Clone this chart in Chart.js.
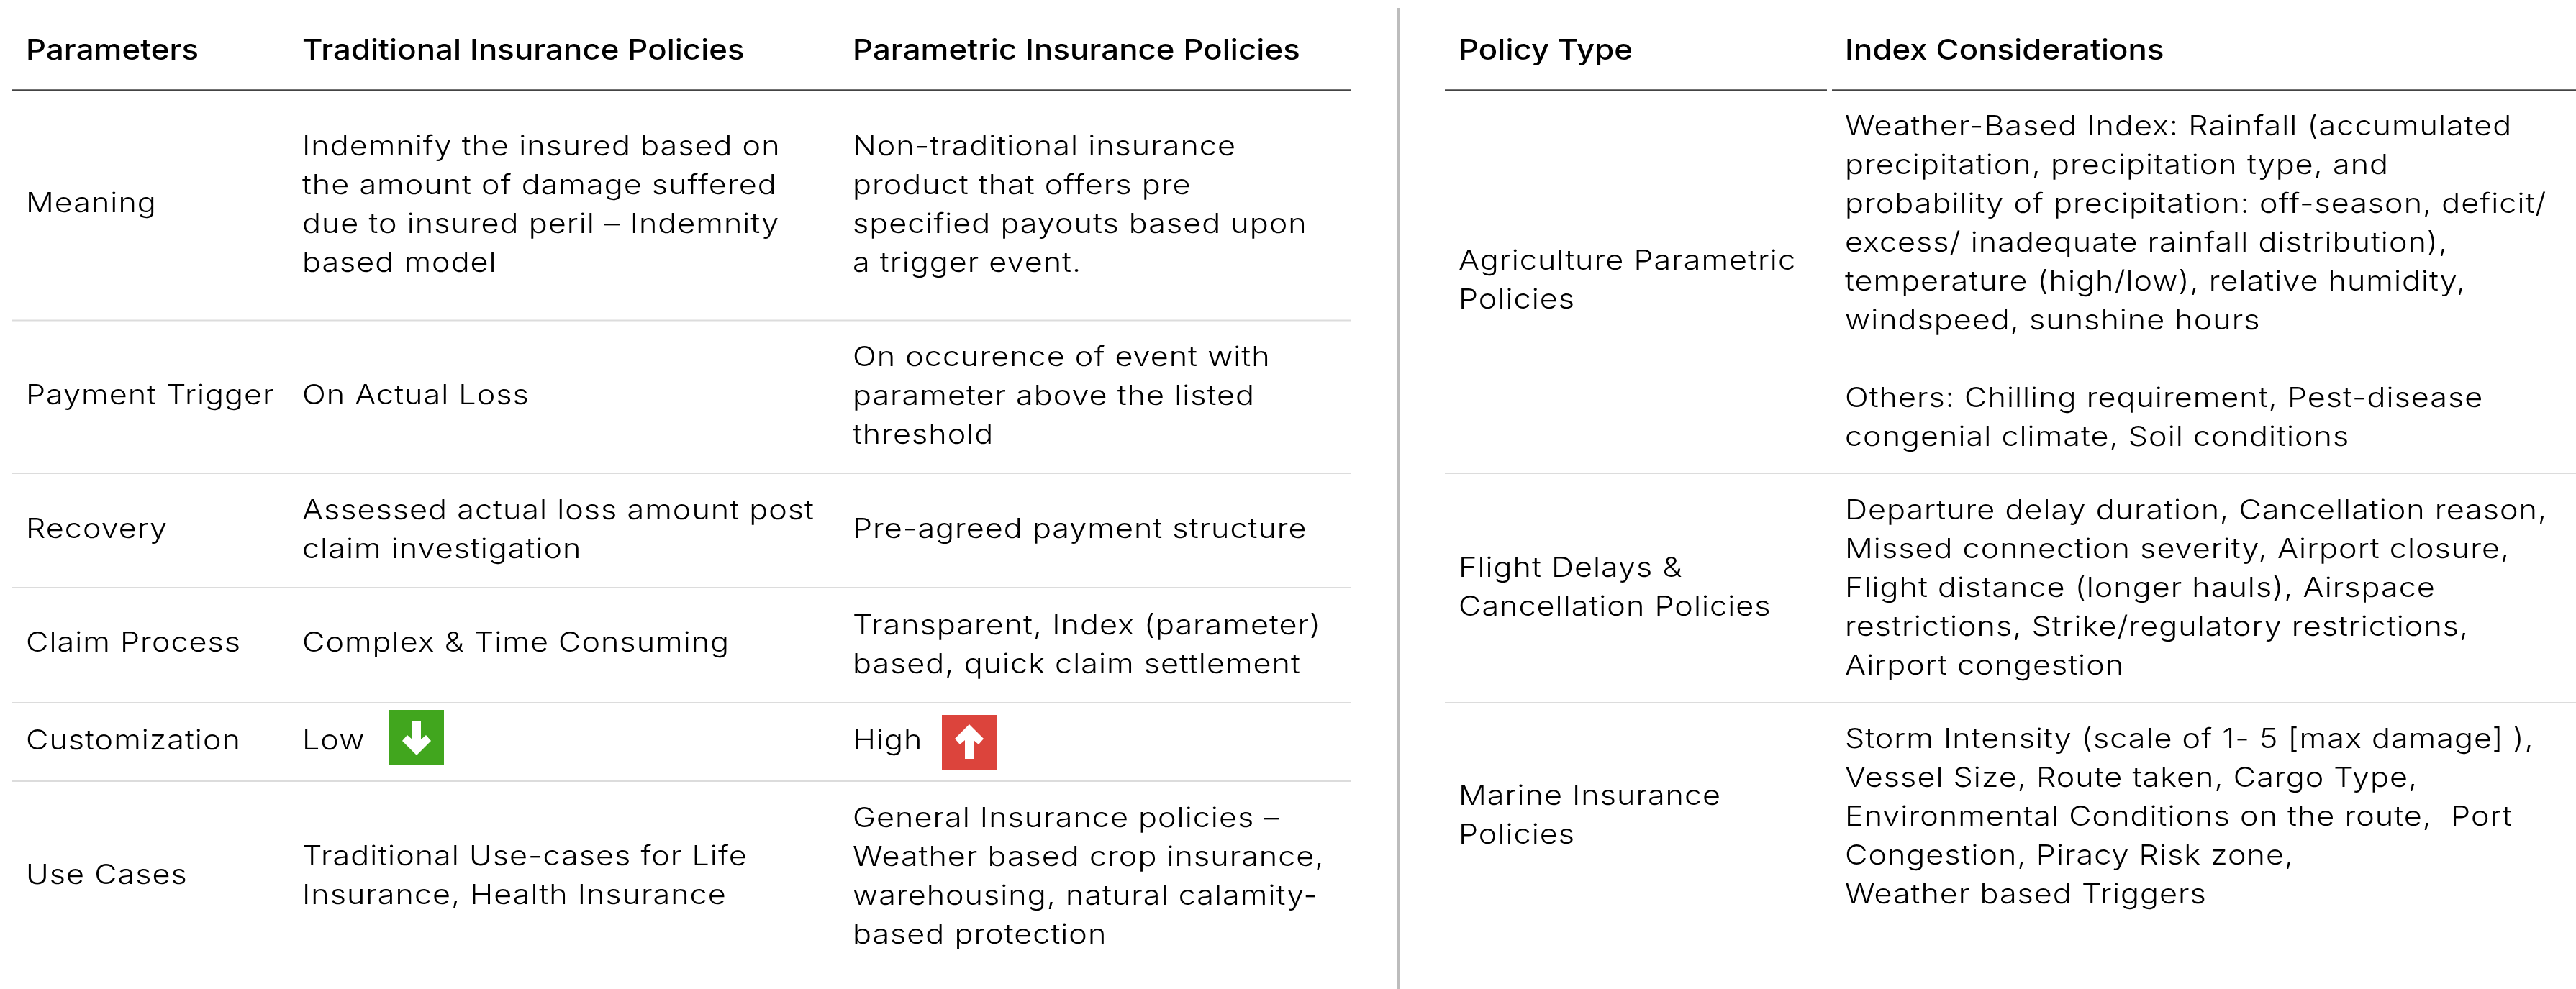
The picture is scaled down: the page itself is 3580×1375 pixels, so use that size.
<!DOCTYPE html>
<html>
<head>
<meta charset="utf-8">
<title>Parametric insurance tables</title>
<script src="https://cdn.jsdelivr.net/npm/chart.js@4/dist/chart.umd.js"></script>
<style>
  html, body { margin: 0; padding: 0; background: #fff; }
  canvas { display: block; }
</style>
</head>
<body>
<canvas id="canvas" width="3580" height="1375"></canvas>
<script>
'use strict';

// Left table
const leftHeaders = ['Parameters', 'Traditional Insurance Policies', 'Parametric Insurance Policies'];
const leftParams = ['Meaning', 'Payment Trigger', 'Recovery', 'Claim Process', 'Customization', 'Use Cases'];
const leftTraditional = [
  ['Indemnify the insured based on', 'the amount of damage suffered', 'due to insured peril \u2013 Indemnity', 'based model'],
  ['On Actual Loss'],
  ['Assessed actual loss amount post', 'claim investigation'],
  ['Complex & Time Consuming'],
  ['Low'],
  ['Traditional Use-cases for Life', 'Insurance, Health Insurance'],
];
const leftParametric = [
  ['Non-traditional insurance', 'product that offers pre', 'specified payouts based upon', 'a trigger event.'],
  ['On occurence of event with', 'parameter above the listed', 'threshold'],
  ['Pre-agreed payment structure'],
  ['Transparent, Index (parameter)', 'based, quick claim settlement'],
  ['High'],
  ['General Insurance policies \u2013', 'Weather based crop insurance,', 'warehousing, natural calamity-', 'based protection'],
];

// Right table
const rightHeaders = ['Policy Type', 'Index Considerations'];
const rightPolicies = [
  ['Agriculture Parametric', 'Policies'],
  ['Flight Delays &', 'Cancellation Policies'],
  ['Marine Insurance', 'Policies'],
];
const rightIndexes = [
  ['Weather-Based Index: Rainfall (accumulated', 'precipitation, precipitation type, and',
   'probability of precipitation: off-season, deficit/', 'excess/ inadequate rainfall distribution),',
   'temperature (high/low), relative humidity,', 'windspeed, sunshine hours', '',
   'Others: Chilling requirement, Pest-disease', 'congenial climate, Soil conditions'],
  ['Departure delay duration, Cancellation reason,', 'Missed connection severity, Airport closure,',
   'Flight distance (longer hauls), Airspace', 'restrictions, Strike/regulatory restrictions,', 'Airport congestion'],
  ['Storm Intensity (scale of 1- 5 [max damage] ),', 'Vessel Size, Route taken, Cargo Type,',
   'Environmental Conditions on the route,  Port', 'Congestion, Piracy Risk zone,', 'Weather based Triggers'],
];

// Layout, in picture pixels
const leftColX = [36, 420, 1185];
const rightColX = [2027, 2564];
const headerY = 83;
const leftParamY = [295, 562, 748, 906, 1042, 1229];
const leftTraditionalY = [216, 562, 722, 906, 1042, 1203];
const leftParametricY = [216, 509, 748, 882, 1042, 1150];
const rightPolicyY = [375, 802, 1119];
const rightIndexY = [188, 722, 1040];
const lineStep = 54;
const leftRuleY = [445.5, 658, 817, 977, 1086];
const rightRuleY = [658, 977];
const bodyFont = '300 38.5px Inter';
const headFont = '500 39px Inter';
const bodySpacing = '0.9px';
const headSpacing = '0.1px';
const textStretch = 1.12;

const makeBadge = (color, up) => {
  const c = document.createElement('canvas');
  c.width = 76;
  c.height = 76;
  const g = c.getContext('2d');
  g.fillStyle = color;
  g.fillRect(0, 0, 76, 76);
  if (up) {
    g.translate(0, 76);
    g.scale(1, -1);
  }
  g.fillStyle = '#fff';
  g.beginPath();
  [[32, 15], [44, 15], [44, 41], [51, 35], [58, 43], [38, 63], [18, 43], [25, 35], [32, 41]]
    .forEach((p, i) => (i ? g.lineTo(p[0], p[1]) : g.moveTo(p[0], p[1])));
  g.closePath();
  g.fill();
  return c;
};

const rule = (x0, x1, y, color, width) => ({
  type: 'scatter',
  showLine: true,
  pointRadius: 0,
  borderColor: color,
  borderWidth: width,
  data: [{ x: x0, y: y }, { x: x1, y: y }],
});

const datasets = [
  rule(16, 1877, 125.5, '#444', 2.5),
  rule(2008, 2539, 125.5, '#444', 2.5),
  rule(2546, 3580, 125.5, '#444', 2.5),
  {
    type: 'scatter',
    showLine: true,
    pointRadius: 0,
    borderColor: '#bdbdbd',
    borderWidth: 4,
    data: [{ x: 1944, y: 11 }, { x: 1944, y: 1375 }],
  },
  {
    type: 'scatter',
    pointRadius: 38,
    pointStyle: [makeBadge('#41a61e', false), makeBadge('#dc443c', true)],
    data: [{ x: 579, y: 1025 }, { x: 1347, y: 1032 }],
  },
];
leftRuleY.forEach(y => datasets.push(rule(16, 1877, y, '#dcdcdc', 2)));
rightRuleY.forEach(y => datasets.push(rule(2008, 3580, y, '#dcdcdc', 2)));

// Draws every cell of the tables at its position on the scales
const tableText = {
  id: 'tableText',
  afterDatasetsDraw(chart) {
    const { ctx, scales } = chart;
    const put = (text, x, y, font, spacing) => {
      ctx.save();
      ctx.font = font;
      ctx.letterSpacing = spacing;
      ctx.translate(scales.x.getPixelForValue(x), scales.y.getPixelForValue(y));
      ctx.scale(textStretch, 1);
      ctx.fillText(text, 0, 0);
      ctx.restore();
    };
    const column = (cells, x, ys) => {
      cells.forEach((lines, i) => {
        lines.forEach((line, j) => put(line, x, ys[i] + j * lineStep, bodyFont, bodySpacing));
      });
    };
    ctx.save();
    ctx.fillStyle = '#000';
    ctx.textAlign = 'left';
    ctx.textBaseline = 'alphabetic';
    leftHeaders.forEach((h, i) => put(h, leftColX[i], headerY, headFont, headSpacing));
    rightHeaders.forEach((h, i) => put(h, rightColX[i], headerY, headFont, headSpacing));
    column(leftParams.map(p => [p]), leftColX[0], leftParamY);
    column(leftTraditional, leftColX[1], leftTraditionalY);
    column(leftParametric, leftColX[2], leftParametricY);
    column(rightPolicies, rightColX[0], rightPolicyY);
    column(rightIndexes, rightColX[1], rightIndexY);
    ctx.restore();
  },
};

new Chart(document.getElementById('canvas').getContext('2d'), {
  type: 'scatter',
  data: { datasets: datasets },
  options: {
    responsive: false,
    animation: false,
    events: [],
    layout: { padding: 0, autoPadding: false },
    plugins: { legend: { display: false }, tooltip: { enabled: false } },
    scales: {
      x: { type: 'linear', display: false, min: 0, max: 3580 },
      y: { type: 'linear', display: false, min: 0, max: 1375, reverse: true },
    },
  },
  plugins: [tableText],
});
</script>
</body>
</html>
